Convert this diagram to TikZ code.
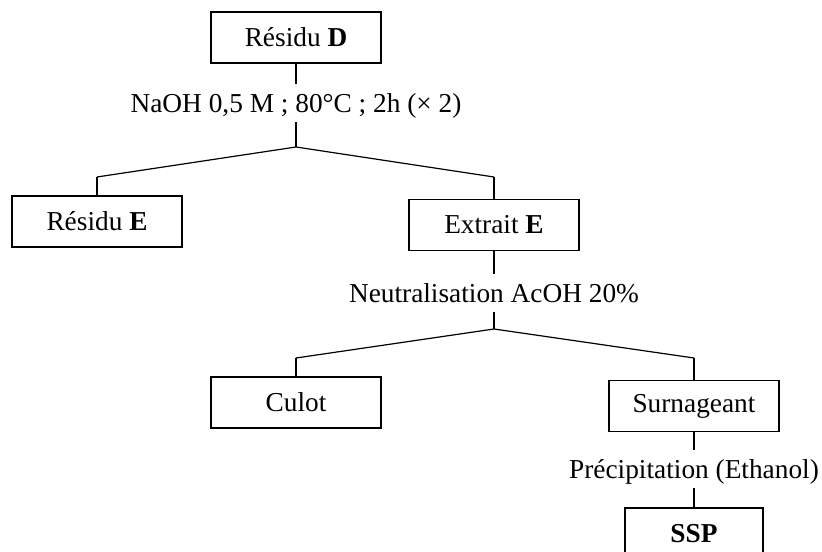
\documentclass[tikz,border=0pt]{standalone}
\usepackage{fontspec}
\setmainfont{Liberation Serif}
\begin{document}
\begin{tikzpicture}[x=0.75pt,y=-0.75pt,line width=0.9pt,
  every node/.style={font=\fontsize{20.5}{24}\selectfont},
  box/.style={draw,minimum width=127.5pt,minimum height=38.25pt,inner sep=0pt},
  cond/.style={anchor=base,inner xsep=0pt,inner ysep=2pt,text height=19pt,text depth=4.5pt}]
\useasboundingbox (0,0) rectangle (822,552);
\node[box] (resD) at (296,37.5) {Résidu \textbf{D}};
\node[cond] (naoh) at (296,113) {NaOH 0,5 M ; 80°C ; 2h (× 2)};
\coordinate (j1) at (296,147);
\coordinate (k1) at (97,177);
\coordinate (k2) at (494,177);
\node[box] (resE) at (97,221.5) {Résidu \textbf{E}};
\node[box] (extr) at (494,225) {Extrait \textbf{E}};
\node[cond] (neutr) at (494,303) {Neutralisation AcOH 20\%};
\coordinate (j2) at (494,329);
\coordinate (k3) at (296,358);
\coordinate (k4) at (694,358);
\node[box] (culot) at (296,402.5) {Culot};
\node[box] (surn) at (694,406) {Surnageant};
\node[cond] (precip) at (694,479) {Précipitation (Ethanol)};
\node[box,minimum width=103.5pt] (ssp) at (694,533.5) {\textbf{SSP}};
\draw (resD) -- (naoh);
\draw (naoh) -- (j1);
\draw (k1) -- (j1) -- (k2);
\draw (k1) -- (resE);
\draw (k2) -- (extr);
\draw (extr) -- (neutr);
\draw (neutr) -- (j2);
\draw (k3) -- (j2) -- (k4);
\draw (k3) -- (culot);
\draw (k4) -- (surn);
\draw (surn) -- (precip);
\draw (precip) -- (ssp);
\end{tikzpicture}
\end{document}
